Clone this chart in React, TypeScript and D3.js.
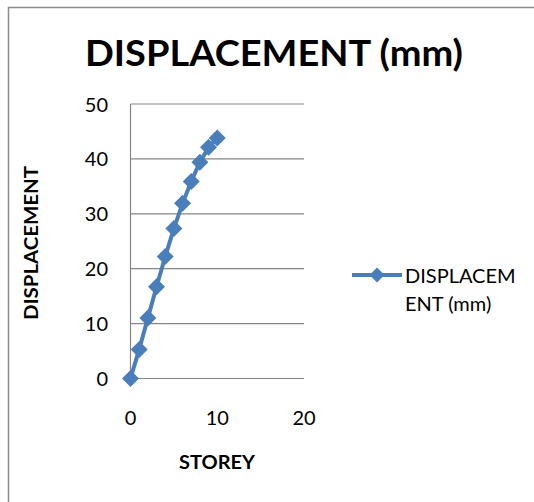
import React from "react";
import * as d3 from "d3";

const storeys = [0, 1, 2, 3, 4, 5, 6, 7, 8, 9, 10];
const displacement = [0, 5.3, 11.0, 16.7, 22.2, 27.3, 31.9, 35.9, 39.4, 42.1, 43.8];
const yTicks = [0, 10, 20, 30, 40, 50];
const xTicks = [0, 10, 20];
const title = "DISPLACEMENT (mm)";
const seriesName = ["DISPLACEM", "ENT (mm)"];

const W = 534, H = 502;
const FONT = "Lato, 'Open Sans', 'Liberation Sans', sans-serif";
const BLUE = "#4A7EBB";

export default function App() {
  const x = d3.scaleLinear().domain([0, 20]).range([130.5, 304]);
  const y = d3.scaleLinear().domain([0, 50]).range([378.5, 104]);
  const line = d3.line<number>().x((_, i) => x(storeys[i])).y((d) => y(d));
  const diamond = (cx: number, cy: number, r: number) =>
    `M${cx},${cy - r}L${cx + r},${cy}L${cx},${cy + r}L${cx - r},${cy}Z`;
  return (
    <svg width={W} height={H} style={{ position: "absolute", left: 0, top: 0 }} fontFamily={FONT}>
      <rect x={0} y={0} width={W} height={H} fill="#fff" />
      <path d={`M8.5,${H}V7.5H${W}`} fill="none" stroke="#8c8c8c" strokeWidth={1.5} />
      <text x={274} y={66} textAnchor="middle" fontWeight="bold" fontSize={37} fill="#000" textLength={378} lengthAdjust="spacingAndGlyphs">{title}</text>
      {yTicks.map((t) => (
        <g key={t}>
          <line x1={x(0)} x2={x(20)} y1={y(t)} y2={y(t)} stroke="#868686" strokeWidth={1.2} />
          <text x={108} y={y(t) + 7.5} textAnchor="end" fontSize={20} fill="#000">{t}</text>
        </g>
      ))}
      <line x1={x(0)} x2={x(0)} y1={y(0)} y2={y(50)} stroke="#868686" strokeWidth={1.2} />
      {xTicks.map((t) => (
        <text key={t} x={x(t)} y={425} textAnchor="middle" fontSize={20} fill="#000">{t}</text>
      ))}
      <text x={217} y={469} textAnchor="middle" fontWeight="bold" fontSize={19} fill="#000" textLength={76} lengthAdjust="spacingAndGlyphs">STOREY</text>
      <text transform="translate(38,243) rotate(-90)" textAnchor="middle" fontWeight="bold" fontSize={19} fill="#000" textLength={154} lengthAdjust="spacingAndGlyphs">DISPLACEMENT</text>
      <path d={line(displacement) || ""} fill="none" stroke={BLUE} strokeWidth={4} strokeLinejoin="round" />
      {displacement.map((d, i) => (
        <path key={i} d={diamond(x(storeys[i]), y(d), 8.5)} fill={BLUE} />
      ))}
      <line x1={352} x2={402} y1={275} y2={275} stroke={BLUE} strokeWidth={4} />
      <path d={diamond(377, 275, 7.5)} fill={BLUE} />
      <text x={405} y={283} fontSize={20} fill="#000">{seriesName[0]}</text>
      <text x={405} y={311} fontSize={20} fill="#000">{seriesName[1]}</text>
    </svg>
  );
}
